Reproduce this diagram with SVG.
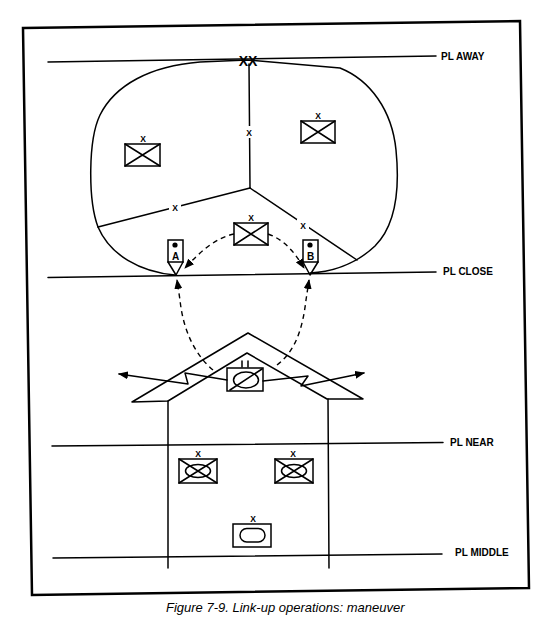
<svg xmlns="http://www.w3.org/2000/svg" width="550" height="642" viewBox="0 0 550 642">
<style>
.ln{fill:none;stroke:#000;stroke-width:1.5;stroke-linecap:round;stroke-linejoin:round}
.dash{fill:none;stroke:#000;stroke-width:1.4;stroke-dasharray:5,4}
.pl{font-family:"Liberation Sans",Arial,sans-serif;font-weight:bold;font-size:10px;fill:#000}
.ech{font-family:"Liberation Sans",Arial,sans-serif;font-weight:bold;font-size:8.5px;fill:#000;text-anchor:middle}
.bx{fill:#fff;stroke:#000;stroke-width:1.5}
</style>
<defs>
<marker id="ah" viewBox="0 0 10 8" refX="9" refY="4" markerWidth="10" markerHeight="8" markerUnits="userSpaceOnUse" orient="auto">
<path d="M0,0 L10,4 L0,8 Z" fill="#000"/>
</marker>
</defs>
<rect x="0" y="0" width="550" height="642" fill="#fff"/>
<polygon points="23,28 520,21 529,588 32,595" fill="none" stroke="#000" stroke-width="2.5"/>

<g id="phase-lines">
<line class="ln" x1="48" y1="62" x2="436" y2="56"/>
<text class="pl" x="441" y="59.5">PL AWAY</text>
<line class="ln" x1="48" y1="277.5" x2="436" y2="272"/>
<text class="pl" x="443" y="275">PL CLOSE</text>
<line class="ln" x1="52" y1="446" x2="443" y2="442.5"/>
<text class="pl" x="450" y="445.5">PL NEAR</text>
<line class="ln" x1="53" y1="558" x2="442" y2="554"/>
<text class="pl" x="455" y="555.5">PL MIDDLE</text>
</g>

<g id="objective-area">
<path class="ln" d="M175,275 C140,272 110,255 98,227 C88,200 88,140 100,115 C115,85 150,66 200,62 L247,60 L340,68 C370,80 392,110 396,150 C400,190 396,225 375,246 C355,265 330,272 310,273"/>
<line class="ln" x1="249" y1="64" x2="250" y2="188"/>
<line class="ln" x1="250" y1="188" x2="98" y2="227"/>
<line class="ln" x1="250" y1="188" x2="357" y2="260"/>
<rect x="243" y="126" width="12" height="12" fill="#fff"/>
<text class="ech" x="249" y="136" font-size="10">X</text>
<rect x="169" y="201" width="12" height="12" fill="#fff"/>
<text class="ech" x="175" y="211" font-size="10">X</text>
<rect x="297" y="219" width="12" height="12" fill="#fff"/>
<text class="ech" x="303" y="229" font-size="10">X</text>
<text x="248" y="66" font-family="Liberation Sans,Arial,sans-serif" font-weight="bold" font-size="14" text-anchor="middle">XX</text>
</g>

<g id="unit-left-upper">
<rect class="bx" x="125" y="144" width="35" height="22"/>
<path class="ln" d="M125,144 L160,166 M160,144 L125,166"/>
<text class="ech" x="143" y="142">X</text>
</g>
<g id="unit-right-upper">
<rect class="bx" x="301" y="121" width="34" height="22"/>
<path class="ln" d="M301,121 L335,143 M335,121 L301,143"/>
<text class="ech" x="318" y="119">X</text>
</g>
<g id="unit-center-upper">
<rect class="bx" x="234" y="223" width="34" height="22"/>
<path class="ln" d="M234,223 L268,245 M268,223 L234,245"/>
<text class="ech" x="251" y="221">X</text>
</g>

<g id="linkup-A">
<rect class="bx" x="168" y="240" width="15" height="22"/>
<path class="ln" d="M168,262 L176,275 L183,262"/>
<circle cx="175" cy="245" r="2.6" fill="#000"/>
<text x="175.5" y="260" font-family="Liberation Sans,Arial,sans-serif" font-weight="bold" font-size="10" text-anchor="middle">A</text>
</g>
<g id="linkup-B">
<rect class="bx" x="303" y="240" width="15" height="22"/>
<path class="ln" d="M303,262 L310,275 L318,262"/>
<circle cx="310" cy="245" r="2.6" fill="#000"/>
<text x="310.5" y="260" font-family="Liberation Sans,Arial,sans-serif" font-weight="bold" font-size="10" text-anchor="middle">B</text>
</g>

<g id="friendly-area">
<path class="ln" d="M132,402 L248,333 L363,399 L327,399 L247,353 L168,401 Z" fill="#fff"/>
<line class="ln" x1="168" y1="401" x2="168" y2="568"/>
<line class="ln" x1="328" y1="399" x2="329" y2="568"/>
</g>

<g id="unit-battalion">
<rect class="bx" x="227" y="368" width="36" height="23"/>
<ellipse cx="246" cy="380" rx="12.5" ry="8" fill="none" stroke="#000" stroke-width="1.5"/>
<line class="ln" x1="230" y1="390" x2="262" y2="369"/>
<path class="ln" d="M242,361 L242,367 M248,361 L248,367"/>
</g>

<g id="unit-left-lower">
<rect class="bx" x="179" y="459" width="38" height="24"/>
<ellipse cx="198" cy="471" rx="12.5" ry="6.5" fill="none" stroke="#000" stroke-width="1.5"/>
<path class="ln" d="M179,459 L217,483 M217,459 L179,483"/>
<text class="ech" x="198" y="457">X</text>
</g>
<g id="unit-right-lower">
<rect class="bx" x="275" y="459" width="38" height="24"/>
<ellipse cx="294" cy="471" rx="12.5" ry="6.5" fill="none" stroke="#000" stroke-width="1.5"/>
<path class="ln" d="M275,459 L313,483 M313,459 L275,483"/>
<text class="ech" x="293" y="457">X</text>
</g>
<g id="unit-bottom">
<rect class="bx" x="233" y="524" width="38" height="23"/>
<rect x="240" y="528.5" width="25" height="13.5" rx="6.75" fill="none" stroke="#000" stroke-width="1.5"/>
<text class="ech" x="253" y="522">X</text>
</g>

<g id="connectors">
<path class="dash" d="M234,234 C215,238 200,252 185,268" marker-end="url(#ah)"/>
<path class="dash" d="M268,234 C285,240 295,253 304,268" marker-end="url(#ah)"/>
<path class="dash" d="M213,370 C195,355 183,330 180,300 L177,280" marker-end="url(#ah)"/>
<path class="dash" d="M277,365 C297,350 303,325 306,300 L309,280" marker-end="url(#ah)"/>
<polyline class="ln" points="227,380 185,373 188,384 119,374" marker-end="url(#ah)"/>
<polyline class="ln" points="263,381 308,376 301,386 364,373" marker-end="url(#ah)"/>
</g>

<text x="166" y="612" font-family="Liberation Sans,Arial,sans-serif" font-style="italic" font-size="13">Figure 7-9. Link-up operations: maneuver</text>
</svg>
